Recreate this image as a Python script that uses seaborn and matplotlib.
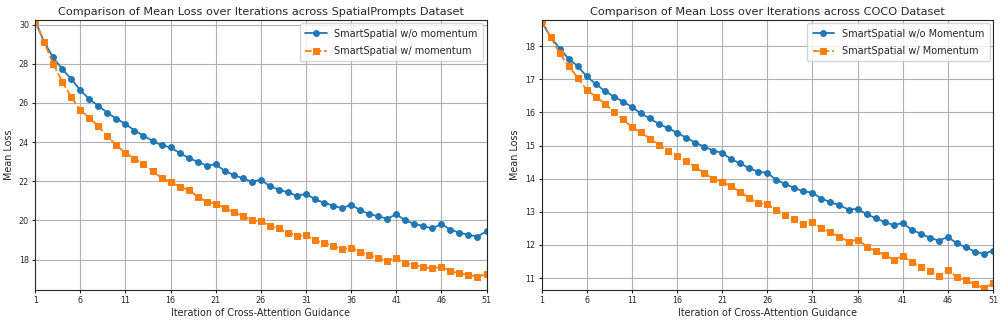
import numpy as np
import pandas as pd
import matplotlib
matplotlib.use("Agg")
import matplotlib.pyplot as plt
import seaborn as sns

sns.set_style("ticks")
plt.rcParams['font.family'] = ['DejaVu Sans']

iterations = list(range(1, 52))

# SpatialPrompts dataset
sp_without = [30.2, 29.1, 28.32, 27.73, 27.22, 26.65, 26.19, 25.85, 25.5, 25.19,
              24.93, 24.59, 24.33, 24.06, 23.84, 23.73, 23.44, 23.2, 22.99, 22.8,
              22.86, 22.53, 22.32, 22.15, 21.98, 22.08, 21.75, 21.57, 21.43, 21.26,
              21.36, 21.08, 20.9, 20.76, 20.62, 20.81, 20.52, 20.33, 20.21, 20.09,
              20.31, 20.0, 19.83, 19.71, 19.59, 19.83, 19.52, 19.38, 19.26, 19.18,
              19.45]
sp_with = [30.2, 29.1, 27.99, 27.08, 26.29, 25.65, 25.23, 24.81, 24.3, 23.84,
           23.44, 23.16, 22.86, 22.53, 22.17, 21.98, 21.72, 21.55, 21.22, 20.96,
           20.85, 20.64, 20.41, 20.23, 20.0, 19.97, 19.71, 19.59, 19.37, 19.2,
           19.25, 19.0, 18.83, 18.71, 18.52, 18.61, 18.37, 18.23, 18.09, 17.95,
           18.06, 17.83, 17.73, 17.61, 17.55, 17.63, 17.41, 17.3, 17.22, 17.13,
           17.25]

# COCO dataset
coco_without = [18.75, 18.28, 17.93, 17.62, 17.4, 17.09, 16.86, 16.65, 16.48, 16.33,
                16.17, 15.97, 15.82, 15.65, 15.53, 15.39, 15.24, 15.09, 14.97, 14.85,
                14.78, 14.59, 14.46, 14.32, 14.21, 14.18, 13.96, 13.84, 13.72, 13.62,
                13.58, 13.4, 13.29, 13.2, 13.07, 13.09, 12.93, 12.81, 12.69, 12.6,
                12.66, 12.46, 12.34, 12.22, 12.13, 12.24, 12.05, 11.93, 11.8, 11.73,
                11.83]
coco_with = [18.75, 18.28, 17.79, 17.4, 17.05, 16.68, 16.48, 16.27, 16.02, 15.79,
             15.56, 15.4, 15.21, 15.02, 14.83, 14.68, 14.53, 14.36, 14.17, 14.0,
             13.91, 13.77, 13.6, 13.42, 13.26, 13.23, 13.06, 12.91, 12.77, 12.62,
             12.68, 12.51, 12.38, 12.25, 12.1, 12.16, 11.95, 11.82, 11.7, 11.56,
             11.66, 11.49, 11.33, 11.22, 11.07, 11.23, 11.04, 10.93, 10.81, 10.69,
             10.84]

xticks = list(range(1, 52, 5))

fig, axes = plt.subplots(1, 2, figsize=(10.05, 3.24), dpi=100)
fig.subplots_adjust(left=0.035, right=0.988, top=0.938, bottom=0.105, wspace=0.122)

panels = [
    (axes[0], sp_without, sp_with, "SpatialPrompts", "momentum", (16.45, 30.23), range(18, 31, 2)),
    (axes[1], coco_without, coco_with, "COCO", "Momentum", (10.64, 18.79), range(11, 19)),
]

for ax, without, with_, name, word, ylim, yticks in panels:
    sns.lineplot(x=iterations, y=without, ax=ax, color='#1f77b4', marker='o',
                 markersize=4.2, linewidth=1.3, markeredgecolor='#1f77b4',
                 label=f"SmartSpatial w/o {word}")
    sns.lineplot(x=iterations, y=with_, ax=ax, color='#ff7f0e', marker='s',
                 markersize=4.2, linewidth=1.3, linestyle='--', markeredgecolor='#ff7f0e',
                 label=f"SmartSpatial w/ {word}")
    ax.set_title(f"Comparison of Mean Loss over Iterations across {name} Dataset",
                 fontsize=8.1, pad=4)
    ax.set_xlabel("Iteration of Cross-Attention Guidance", fontsize=6.9, labelpad=2)
    ax.set_ylabel("Mean Loss", fontsize=6.9, labelpad=3.5)
    ax.set_xlim(1, 51)
    ax.set_ylim(*ylim)
    ax.set_xticks(xticks)
    ax.set_yticks(list(yticks))
    ax.tick_params(labelsize=5.8, length=2.5, pad=2)
    ax.grid(True, color='#b0b0b0', linewidth=0.8)
    for s in ax.spines.values():
        s.set_linewidth(0.8)
    ax.legend(loc='upper right', fontsize=7, framealpha=0.8, borderaxespad=0.35,
              handlelength=2.2, labelspacing=0.75, borderpad=0.55)

fig.savefig("out.png", dpi=100)
